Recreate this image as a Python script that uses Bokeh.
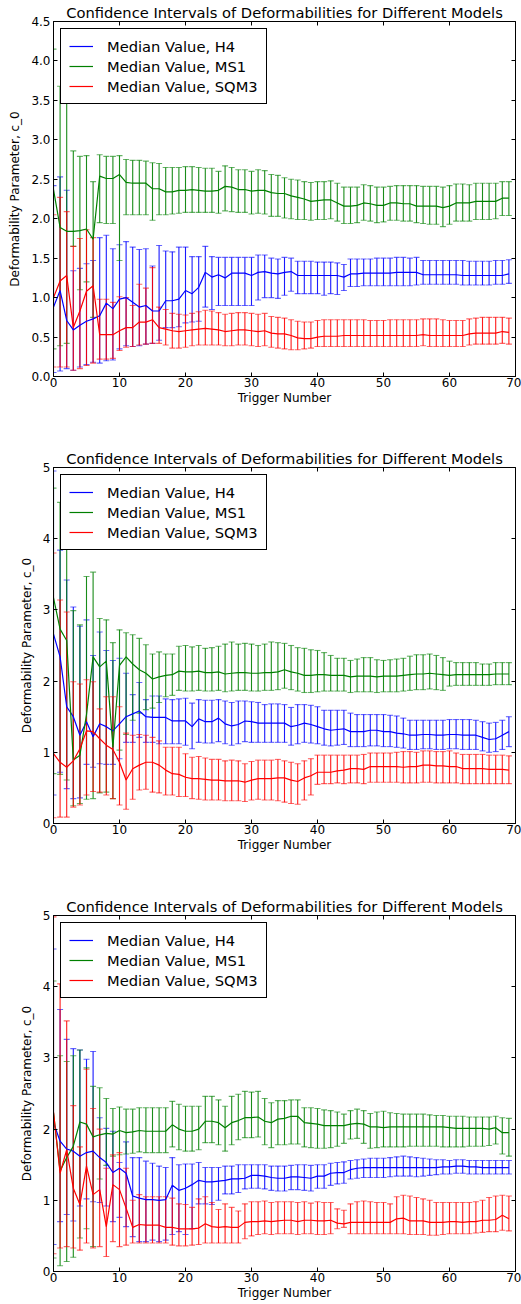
from bokeh.plotting import figure
from bokeh.models import (Range1d, FixedTicker, LinearAxis, Whisker, TeeHead,
                          ColumnDataSource, PrintfTickFormatter)
from bokeh.layouts import column
from bokeh.embed import file_html
from bokeh.resources import INLINE

trigger = list(range(70))
models = ["H4", "MS1", "SQM3"]
colors = ["#0000ff", "#008000", "#ff0000"]
title_text = "Confidence Intervals of Deformabilities for Different Models"
x_label = "Trigger Number"
y_label = "Deformability Parameter, c_0"
x_ticks = [0, 10, 20, 30, 40, 50, 60, 70]
p1_y_ticks = [0.0, 0.5, 1.0, 1.5, 2.0, 2.5, 3.0, 3.5, 4.0, 4.5]
p23_y_ticks = [0, 1, 2, 3, 4, 5]

# ---------------- panel 1 ----------------
p1_h4_med = [0.88,1.09,0.71,0.59,0.65,0.70,0.73,0.77,0.93,0.86,
 0.98,1.00,0.94,0.88,0.90,0.83,0.83,0.96,0.96,0.98,
 1.09,1.05,1.13,1.32,1.26,1.29,1.25,1.31,1.31,1.31,
 1.28,1.32,1.33,1.31,1.30,1.32,1.33,1.28,1.28,1.28,
 1.28,1.28,1.28,1.28,1.26,1.30,1.30,1.31,1.31,1.31,
 1.31,1.31,1.32,1.32,1.32,1.32,1.29,1.29,1.29,1.29,
 1.29,1.29,1.28,1.28,1.28,1.28,1.28,1.28,1.28,1.30]
p1_h4_lo = [0.05,0.07,0.10,0.08,0.12,0.15,0.18,0.17,0.20,0.21,
 0.35,0.39,0.38,0.39,0.41,0.42,0.46,0.62,0.62,0.63,
 0.68,0.69,0.70,0.88,0.85,0.90,0.90,0.90,0.90,0.90,
 0.90,0.97,1.00,1.00,0.99,1.03,1.08,1.05,1.05,1.05,
 1.05,1.03,1.05,1.04,1.09,1.14,1.14,1.15,1.15,1.15,
 1.15,1.15,1.15,1.15,1.15,1.16,1.17,1.17,1.17,1.17,
 1.17,1.17,1.16,1.16,1.16,1.16,1.16,1.17,1.17,1.18]
p1_h4_hi = [2.42,2.53,2.36,1.34,1.37,1.43,1.47,1.76,1.79,1.62,
 1.67,1.71,1.64,1.61,1.62,1.40,1.66,1.59,1.58,1.64,
 1.64,1.52,1.52,1.65,1.52,1.51,1.51,1.51,1.51,1.51,
 1.51,1.54,1.54,1.50,1.49,1.51,1.50,1.46,1.46,1.46,
 1.45,1.45,1.45,1.44,1.42,1.49,1.49,1.49,1.49,1.50,
 1.50,1.50,1.51,1.51,1.50,1.51,1.47,1.47,1.47,1.47,
 1.47,1.47,1.47,1.46,1.46,1.46,1.46,1.47,1.47,1.48]

p1_ms1_med = [2.37,1.89,1.84,1.84,1.85,1.87,1.74,2.54,2.51,2.51,
 2.56,2.46,2.45,2.45,2.45,2.38,2.38,2.34,2.34,2.36,
 2.36,2.37,2.36,2.35,2.35,2.36,2.41,2.40,2.37,2.37,
 2.35,2.36,2.36,2.33,2.32,2.32,2.29,2.27,2.25,2.22,
 2.23,2.24,2.24,2.20,2.16,2.16,2.17,2.20,2.19,2.17,
 2.17,2.20,2.20,2.19,2.19,2.16,2.16,2.16,2.16,2.14,
 2.16,2.20,2.20,2.20,2.22,2.22,2.22,2.22,2.26,2.26]
p1_ms1_lo = [0.35,0.39,0.42,1.65,1.10,1.20,0.75,1.95,1.94,1.94,
 1.47,2.05,2.05,2.05,2.05,1.98,2.05,2.05,2.06,2.07,
 2.08,2.08,2.08,2.08,2.08,2.07,2.10,2.09,2.08,2.08,
 2.06,2.07,2.06,2.03,2.03,2.01,2.00,1.99,1.99,1.98,
 1.99,1.99,2.00,1.97,1.94,1.94,1.95,1.98,1.97,1.95,
 1.96,1.98,1.98,1.97,1.97,1.95,1.94,1.93,1.93,1.90,
 1.93,1.97,1.97,1.97,1.99,1.99,1.99,2.00,2.04,2.04]
p1_ms1_hi = [4.15,3.68,3.50,2.86,2.79,2.80,2.47,2.81,2.79,2.79,
 2.80,2.75,2.74,2.74,2.73,2.71,2.70,2.65,2.65,2.65,
 2.66,2.66,2.65,2.64,2.64,2.60,2.67,2.65,2.62,2.62,
 2.60,2.62,2.61,2.56,2.55,2.52,2.50,2.49,2.47,2.46,
 2.47,2.47,2.48,2.45,2.40,2.40,2.40,2.43,2.42,2.40,
 2.40,2.41,2.42,2.42,2.42,2.42,2.41,2.41,2.41,2.40,
 2.42,2.44,2.44,2.43,2.45,2.45,2.45,2.45,2.47,2.47]

p1_sqm3_med = [1.00,1.21,1.28,0.62,0.83,1.08,1.15,0.53,0.53,0.53,
 0.58,0.62,0.62,0.69,0.69,0.72,0.62,0.60,0.58,0.57,
 0.58,0.59,0.60,0.61,0.60,0.59,0.57,0.58,0.59,0.59,
 0.58,0.57,0.58,0.55,0.54,0.54,0.52,0.49,0.48,0.48,
 0.50,0.51,0.51,0.51,0.52,0.52,0.52,0.52,0.52,0.52,
 0.52,0.52,0.52,0.52,0.52,0.52,0.53,0.52,0.52,0.52,
 0.52,0.52,0.52,0.54,0.55,0.55,0.55,0.55,0.57,0.56]
p1_sqm3_lo = [0.12,0.12,0.12,0.08,0.10,0.14,0.17,0.22,0.22,0.23,
 0.33,0.37,0.38,0.40,0.41,0.42,0.42,0.40,0.36,0.36,
 0.37,0.39,0.40,0.40,0.40,0.40,0.39,0.39,0.40,0.40,
 0.39,0.38,0.39,0.37,0.36,0.35,0.34,0.34,0.35,0.36,
 0.38,0.38,0.38,0.38,0.38,0.38,0.38,0.38,0.38,0.38,
 0.38,0.38,0.38,0.38,0.38,0.38,0.39,0.38,0.38,0.38,
 0.38,0.38,0.38,0.40,0.41,0.41,0.41,0.41,0.42,0.41]
p1_sqm3_hi = [2.05,2.27,2.09,1.65,1.75,1.86,1.76,0.98,0.98,0.94,
 1.01,1.00,0.90,1.17,1.12,1.38,0.88,0.85,0.80,0.79,
 0.78,0.80,0.82,0.84,0.83,0.81,0.79,0.80,0.81,0.81,
 0.80,0.79,0.80,0.76,0.75,0.74,0.72,0.70,0.69,0.69,
 0.71,0.72,0.72,0.72,0.72,0.72,0.72,0.72,0.71,0.71,
 0.71,0.72,0.72,0.72,0.72,0.72,0.73,0.73,0.73,0.72,
 0.71,0.71,0.71,0.73,0.74,0.75,0.75,0.75,0.75,0.74]

# ---------------- panel 2 ----------------
p2_h4_med = [2.66,2.34,1.64,1.50,1.24,1.43,1.22,1.40,1.36,1.30,
 1.40,1.50,1.54,1.58,1.50,1.49,1.49,1.49,1.44,1.44,
 1.44,1.36,1.47,1.43,1.43,1.48,1.40,1.37,1.39,1.44,
 1.43,1.41,1.41,1.41,1.41,1.41,1.36,1.38,1.41,1.39,
 1.36,1.33,1.31,1.32,1.33,1.29,1.29,1.29,1.31,1.31,
 1.29,1.29,1.27,1.26,1.24,1.24,1.25,1.25,1.24,1.24,
 1.25,1.25,1.24,1.24,1.24,1.21,1.18,1.19,1.24,1.29]
p2_h4_lo = [0.40,0.72,0.49,0.35,0.36,0.83,0.79,0.84,0.83,0.83,
 0.91,1.14,1.14,1.21,1.14,1.14,1.12,1.12,1.12,1.12,
 1.10,1.05,1.14,1.13,1.13,1.15,1.12,1.10,1.12,1.15,
 1.14,1.14,1.14,1.14,1.14,1.14,1.10,1.12,1.14,1.13,
 1.12,1.10,1.09,1.10,1.11,1.08,1.08,1.08,1.09,1.09,
 1.08,1.08,1.07,1.06,1.04,1.04,1.05,1.05,1.04,1.04,
 1.05,1.05,1.04,1.04,1.04,1.02,1.00,1.01,1.04,1.08]
p2_h4_hi = [4.95,3.84,3.42,3.04,2.77,2.86,2.36,2.69,2.43,2.29,
 2.32,2.11,1.81,1.98,1.74,1.79,1.79,1.75,1.74,1.75,
 1.76,1.69,1.74,1.73,1.73,1.74,1.72,1.70,1.72,1.72,
 1.71,1.70,1.67,1.68,1.68,1.67,1.63,1.67,1.67,1.66,
 1.64,1.59,1.59,1.59,1.59,1.55,1.53,1.53,1.53,1.53,
 1.53,1.52,1.51,1.48,1.45,1.45,1.45,1.45,1.45,1.45,
 1.46,1.46,1.46,1.46,1.45,1.43,1.41,1.42,1.45,1.50]

p2_ms1_med = [3.17,2.73,2.57,0.89,0.96,1.53,2.34,2.20,2.28,1.07,
 2.22,2.34,2.24,2.16,2.11,2.03,2.06,2.08,2.09,2.14,
 2.13,2.13,2.14,2.12,2.12,2.13,2.10,2.11,2.12,2.12,
 2.11,2.11,2.12,2.12,2.13,2.16,2.13,2.11,2.08,2.08,
 2.09,2.09,2.08,2.08,2.08,2.06,2.07,2.07,2.07,2.06,
 2.07,2.07,2.07,2.08,2.09,2.10,2.10,2.11,2.10,2.09,
 2.08,2.09,2.09,2.09,2.09,2.09,2.09,2.10,2.10,2.10]
p2_ms1_lo = [0.70,0.69,0.61,0.25,0.28,0.34,0.35,0.43,0.44,0.35,
 1.03,1.25,1.45,1.55,1.60,1.62,1.70,1.78,1.80,1.87,
 1.86,1.86,1.87,1.86,1.86,1.87,1.85,1.86,1.87,1.87,
 1.86,1.86,1.87,1.87,1.88,1.90,1.88,1.86,1.84,1.84,
 1.85,1.86,1.86,1.86,1.86,1.84,1.85,1.85,1.85,1.84,
 1.85,1.85,1.85,1.86,1.87,1.88,1.88,1.89,1.88,1.87,
 1.93,1.94,1.94,1.94,1.94,1.94,1.94,1.95,1.95,1.95]
p2_ms1_hi = [4.71,4.51,4.04,2.99,2.79,3.47,3.53,2.88,2.86,2.54,
 2.72,2.68,2.65,2.60,2.51,2.38,2.41,2.38,2.38,2.49,
 2.50,2.48,2.50,2.46,2.47,2.49,2.52,2.55,2.52,2.53,
 2.52,2.50,2.52,2.55,2.54,2.53,2.50,2.47,2.46,2.44,
 2.43,2.40,2.36,2.32,2.32,2.29,2.31,2.33,2.33,2.30,
 2.29,2.30,2.31,2.32,2.35,2.37,2.37,2.38,2.36,2.33,
 2.28,2.26,2.26,2.26,2.26,2.24,2.24,2.26,2.26,2.26]

p2_sqm3_med = [0.98,0.86,0.79,0.88,1.05,1.30,1.29,1.19,1.10,1.04,
 0.86,0.61,0.77,0.82,0.86,0.86,0.82,0.75,0.70,0.69,
 0.65,0.63,0.63,0.62,0.61,0.61,0.60,0.60,0.60,0.58,
 0.61,0.63,0.63,0.63,0.64,0.64,0.61,0.59,0.64,0.67,
 0.72,0.72,0.72,0.74,0.75,0.77,0.77,0.76,0.80,0.80,
 0.80,0.80,0.80,0.79,0.80,0.80,0.82,0.82,0.81,0.81,
 0.80,0.80,0.77,0.77,0.77,0.77,0.76,0.76,0.76,0.75]
p2_sqm3_lo = [0.08,0.09,0.09,0.23,0.26,0.40,0.45,0.44,0.40,0.35,
 0.26,0.20,0.34,0.47,0.48,0.44,0.43,0.40,0.40,0.38,
 0.38,0.35,0.34,0.33,0.33,0.33,0.32,0.32,0.32,0.31,
 0.33,0.34,0.33,0.33,0.32,0.30,0.28,0.27,0.33,0.40,
 0.55,0.56,0.56,0.57,0.56,0.57,0.57,0.56,0.58,0.58,
 0.58,0.58,0.58,0.57,0.57,0.57,0.58,0.58,0.57,0.57,
 0.57,0.57,0.56,0.56,0.56,0.56,0.56,0.56,0.56,0.56]
p2_sqm3_hi = [3.80,3.14,2.97,1.99,1.96,2.02,1.99,1.61,1.78,1.78,
 1.64,1.27,1.24,1.25,1.24,1.21,1.16,1.07,1.07,1.07,
 0.98,0.93,0.94,0.92,0.90,0.90,0.88,0.89,0.88,0.84,
 0.87,0.89,0.89,0.89,0.90,0.88,0.86,0.84,0.88,0.91,
 0.96,0.96,0.96,0.96,0.96,0.96,0.96,0.97,0.99,0.99,
 0.99,0.99,1.00,1.01,1.01,1.00,1.02,1.02,1.01,1.01,
 1.02,0.99,0.97,0.97,0.97,0.97,0.96,0.96,0.96,0.95]

# ---------------- panel 3 ----------------
p3_h4_med = [2.09,1.83,1.72,1.69,1.62,1.67,1.69,1.60,1.53,1.39,
 1.45,1.38,1.06,1.03,1.01,1.01,1.00,1.01,1.21,1.14,
 1.17,1.22,1.28,1.26,1.26,1.27,1.28,1.30,1.30,1.31,
 1.35,1.35,1.34,1.32,1.31,1.31,1.33,1.33,1.32,1.31,
 1.34,1.34,1.38,1.39,1.39,1.43,1.45,1.46,1.46,1.46,
 1.46,1.46,1.46,1.46,1.46,1.46,1.46,1.46,1.46,1.47,
 1.47,1.48,1.48,1.47,1.47,1.46,1.46,1.46,1.46,1.46]
p3_h4_lo = [0.38,0.70,0.80,0.71,0.92,1.02,0.98,0.97,0.92,0.70,
 0.76,0.63,0.49,0.42,0.42,0.44,0.42,0.44,0.52,0.56,
 0.52,0.60,0.95,0.95,0.94,1.00,1.09,1.09,1.11,1.16,
 1.17,1.17,1.16,1.14,1.13,1.13,1.15,1.15,1.14,1.13,
 1.17,1.17,1.21,1.23,1.24,1.30,1.31,1.32,1.32,1.32,
 1.32,1.33,1.34,1.34,1.34,1.33,1.34,1.35,1.36,1.37,
 1.37,1.38,1.38,1.37,1.37,1.37,1.37,1.37,1.37,1.37]
p3_h4_hi = [4.53,3.68,3.26,3.13,3.11,2.98,3.09,2.16,2.01,1.97,
 1.53,1.82,1.60,1.60,1.55,1.52,1.48,1.46,1.60,1.50,
 1.51,1.51,1.53,1.46,1.46,1.46,1.48,1.48,1.50,1.50,
 1.50,1.50,1.50,1.48,1.48,1.48,1.49,1.50,1.50,1.49,
 1.50,1.50,1.52,1.53,1.54,1.56,1.57,1.58,1.59,1.59,
 1.59,1.60,1.61,1.62,1.61,1.60,1.59,1.58,1.57,1.57,
 1.56,1.57,1.57,1.56,1.56,1.56,1.56,1.56,1.56,1.56]

p3_ms1_med = [2.23,1.41,1.60,1.76,2.10,2.07,1.89,1.92,1.94,1.93,
 1.98,1.95,1.96,1.98,1.97,1.97,1.97,1.97,2.06,2.00,
 1.97,1.97,2.00,2.11,2.11,2.09,2.02,2.09,2.12,2.16,
 2.16,2.17,2.11,2.09,2.14,2.15,2.18,2.18,2.09,2.08,
 2.07,2.05,2.05,2.05,2.05,2.07,2.08,2.07,2.03,2.03,
 2.02,2.03,2.03,2.03,2.03,2.03,2.03,2.03,2.03,2.03,
 2.02,2.01,2.01,2.01,2.01,2.01,2.00,2.02,1.95,1.95]
p3_ms1_lo = [0.19,0.08,0.14,0.20,0.47,0.60,0.35,1.30,1.49,1.62,
 1.64,1.65,1.66,1.68,1.67,1.67,1.67,1.67,1.75,1.71,
 1.69,1.69,1.71,1.81,1.81,1.78,1.69,1.78,1.85,1.88,
 1.88,1.89,1.78,1.74,1.78,1.78,1.79,1.79,1.75,1.74,
 1.73,1.73,1.74,1.76,1.80,1.86,1.87,1.80,1.73,1.74,
 1.75,1.75,1.75,1.75,1.76,1.76,1.76,1.76,1.76,1.75,
 1.75,1.75,1.75,1.76,1.76,1.76,1.77,1.79,1.65,1.62]
p3_ms1_hi = [4.08,3.03,2.95,3.03,3.11,2.86,2.60,2.58,2.43,2.29,
 2.31,2.28,2.28,2.30,2.30,2.30,2.30,2.30,2.39,2.35,
 2.32,2.32,2.32,2.46,2.46,2.41,2.32,2.46,2.49,2.53,
 2.52,2.53,2.43,2.37,2.40,2.40,2.41,2.41,2.30,2.30,
 2.29,2.27,2.26,2.24,2.21,2.26,2.28,2.26,2.22,2.24,
 2.25,2.23,2.22,2.21,2.21,2.21,2.21,2.20,2.19,2.19,
 2.18,2.18,2.18,2.17,2.17,2.17,2.17,2.18,2.16,2.15]

p3_sqm3_med = [2.24,1.38,1.71,1.17,0.94,1.48,1.08,1.15,0.63,1.22,
 1.15,0.89,0.62,0.66,0.65,0.65,0.65,0.62,0.62,0.60,
 0.60,0.60,0.61,0.67,0.63,0.62,0.63,0.62,0.62,0.69,
 0.70,0.70,0.71,0.70,0.71,0.72,0.72,0.70,0.72,0.72,
 0.71,0.71,0.72,0.68,0.67,0.69,0.69,0.69,0.69,0.69,
 0.69,0.69,0.74,0.75,0.71,0.71,0.71,0.69,0.69,0.69,
 0.70,0.70,0.69,0.70,0.70,0.72,0.72,0.73,0.79,0.74]
p3_sqm3_lo = [0.25,0.33,0.35,0.33,0.30,0.40,0.33,0.35,0.21,0.42,
 0.35,0.37,0.40,0.40,0.40,0.40,0.40,0.40,0.37,0.36,
 0.36,0.37,0.38,0.40,0.40,0.40,0.40,0.40,0.40,0.46,
 0.50,0.52,0.53,0.52,0.53,0.53,0.53,0.52,0.53,0.53,
 0.52,0.52,0.53,0.60,0.62,0.53,0.53,0.53,0.53,0.53,
 0.53,0.53,0.53,0.53,0.52,0.52,0.52,0.51,0.51,0.52,
 0.53,0.53,0.53,0.53,0.54,0.55,0.56,0.56,0.58,0.57]
p3_sqm3_hi = [4.98,4.04,3.52,2.33,1.75,2.84,2.29,2.00,1.45,1.64,
 1.67,1.45,1.00,1.08,1.05,1.05,1.05,1.05,1.03,0.95,
 0.94,0.90,1.02,1.05,0.97,0.87,0.95,0.90,0.85,0.95,
 0.98,0.98,0.99,0.97,0.98,0.98,0.98,0.97,0.98,0.96,
 0.98,0.97,0.97,0.88,0.86,0.95,0.98,0.99,0.98,0.97,
 0.97,0.95,1.05,1.07,1.06,1.04,1.02,1.00,0.97,0.97,
 0.97,0.97,0.97,0.97,0.98,1.00,1.04,1.06,1.07,1.06]

FONT = "DejaVu Sans"


def make_panel(series, y_end, y_ticks, y_fmt, height, border_top, border_bottom):
    p = figure(width=521, height=height, x_range=Range1d(0, 70), y_range=Range1d(0, y_end),
               output_backend="svg", toolbar_location=None,
               min_border_left=53, min_border_right=6,
               min_border_top=border_top, min_border_bottom=border_bottom)
    p.grid.visible = False
    p.outline_line_color = "black"
    p.outline_line_width = 1
    p.background_fill_color = "white"
    p.border_fill_color = "white"

    p.title.text = title_text
    p.title.align = "center"
    p.title.text_font = FONT
    p.title.text_font_size = "14.7px"
    p.title.text_font_style = "normal"
    p.title.text_color = "black"
    p.title.standoff = 2
    p.title.offset = 0

    for (name, med, lo, hi), color in zip(series, colors):
        src = ColumnDataSource(dict(x=trigger, med=med, lo=lo, hi=hi))
        w = Whisker(source=src, base="x", upper="hi", lower="lo", dimension="height",
                    line_color=color, line_alpha=0.9, line_width=1.1, level="underlay",
                    upper_head=TeeHead(size=6, line_color=color, line_alpha=0.6, line_width=1.1),
                    lower_head=TeeHead(size=6, line_color=color, line_alpha=0.6, line_width=1.1))
        p.add_layout(w)
        p.line("x", "med", source=src, line_color=color, line_width=1.2,
               legend_label="Median Value, " + name)

    p.xaxis.ticker = FixedTicker(ticks=x_ticks)
    p.yaxis.ticker = FixedTicker(ticks=y_ticks)
    p.yaxis.formatter = PrintfTickFormatter(format=y_fmt)
    p.xaxis.axis_label = x_label
    p.yaxis.axis_label = y_label
    for ax in (p.xaxis[0], p.yaxis[0]):
        ax.major_tick_in = 4
        ax.major_tick_out = 0
        ax.minor_tick_line_color = None
        ax.axis_line_color = "black"
        ax.major_tick_line_color = "black"
        ax.major_label_text_font = FONT
        ax.major_label_text_font_size = "12px"
        ax.major_label_text_color = "black"
        ax.axis_label_text_font = FONT
        ax.axis_label_text_font_size = "12px"
        ax.axis_label_text_font_style = "normal"
        ax.axis_label_text_color = "black"
    p.xaxis.major_label_standoff = 1
    p.xaxis.axis_label_standoff = 1
    p.yaxis.major_label_standoff = 3
    p.yaxis.axis_label_standoff = 6

    # inward ticks on the top and right edges of the frame (no labels)
    for side, ticks in (("right", y_ticks), ("above", x_ticks)):
        ax = LinearAxis(ticker=FixedTicker(ticks=ticks), major_tick_in=4, major_tick_out=0,
                        minor_tick_line_color=None, axis_line_color=None,
                        major_tick_line_color="black", major_label_text_color=None,
                        major_label_text_font_size="1px", major_label_standoff=0)
        p.add_layout(ax, side)

    lg = p.legend[0]
    lg.location = "top_left"
    lg.margin = 7
    lg.padding = 8
    lg.spacing = 2
    lg.glyph_width = 24
    lg.glyph_height = 18
    lg.label_height = 18
    lg.label_standoff = 14
    lg.label_text_font = FONT
    lg.label_text_font_size = "14.7px"
    lg.label_text_color = "black"
    lg.border_line_color = "black"
    lg.border_line_width = 1
    lg.border_line_alpha = 1
    lg.background_fill_color = "white"
    lg.background_fill_alpha = 1
    return p


series1 = [("H4", p1_h4_med, p1_h4_lo, p1_h4_hi),
           ("MS1", p1_ms1_med, p1_ms1_lo, p1_ms1_hi),
           ("SQM3", p1_sqm3_med, p1_sqm3_lo, p1_sqm3_hi)]
series2 = [("H4", p2_h4_med, p2_h4_lo, p2_h4_hi),
           ("MS1", p2_ms1_med, p2_ms1_lo, p2_ms1_hi),
           ("SQM3", p2_sqm3_med, p2_sqm3_lo, p2_sqm3_hi)]
series3 = [("H4", p3_h4_med, p3_h4_lo, p3_h4_hi),
           ("MS1", p3_ms1_med, p3_ms1_lo, p3_ms1_hi),
           ("SQM3", p3_sqm3_med, p3_sqm3_lo, p3_sqm3_hi)]

fig1 = make_panel(series1, 4.5, p1_y_ticks, "%.1f", 440, 20, 64)
fig2 = make_panel(series2, 5, p23_y_ticks, "%d", 448, 27, 65)
fig3 = make_panel(series3, 5, p23_y_ticks, "%d", 416, 27, 33)

layout = column(fig1, fig2, fig3)
open("out.html", "w").write(file_html(layout, INLINE))
